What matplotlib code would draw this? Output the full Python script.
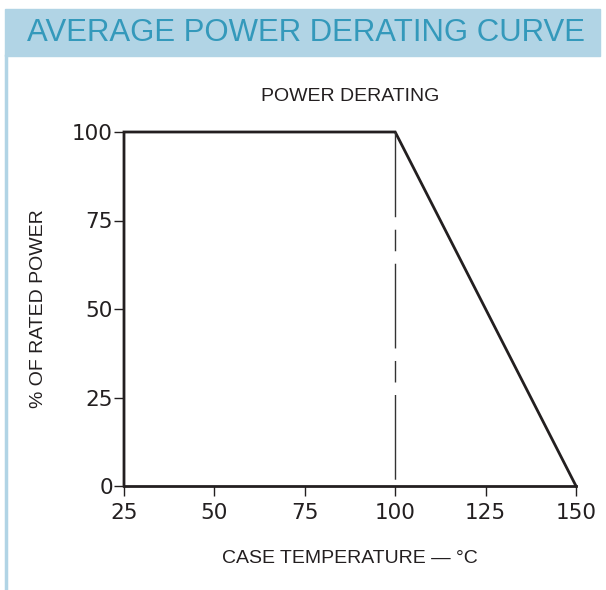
"""
Average power derating curve (resistor datasheet style).
"""
import matplotlib.pyplot as plt
from matplotlib.patches import Rectangle
from matplotlib.lines import Line2D

# curve data
temps = [25, 25, 100, 150]
power = [0, 100, 100, 0]
knee_temp = [100, 100]
knee_power = [100, 0]
xticks = [25, 50, 75, 100, 125, 150]
yticks = [0, 25, 50, 75, 100]

BAND = '#b1d4e5'
TITLE_BLUE = '#3499bb'
INK = '#231f20'

plt.rcParams['font.family'] = ['Liberation Sans', 'DejaVu Sans']

fig = plt.figure(figsize=(6.06, 5.90), dpi=100)

# header band and left border
fig.patches.append(Rectangle((5 / 606, 1 - 56 / 590), 595 / 606, 47 / 590,
                             transform=fig.transFigure, color=BAND, zorder=0))
fig.lines.append(Line2D([6 / 606, 6 / 606], [1 - 56 / 590, 2 / 590],
                        transform=fig.transFigure, color=BAND, lw=2.5))
fig.text(27 / 606, 1 - 33 / 590, 'AVERAGE POWER DERATING CURVE',
         ha='left', va='center', fontsize=22.4, color=TITLE_BLUE)

ax = fig.add_axes([124 / 606, 1 - 486 / 590, 452 / 606, 354 / 590])
ax.plot(temps, power, color=INK, lw=2, clip_on=False,
        solid_joinstyle='miter')
ax.plot(knee_temp, knee_power, color='#333333', lw=1,
        dashes=(61, 9, 15.5, 9), clip_on=False)

ax.set_xlim(25, 150)
ax.set_ylim(0, 100)
ax.set_xticks(xticks)
ax.set_yticks(yticks)
for side in ['top', 'right', 'left']:
    ax.spines[side].set_visible(False)
ax.spines['bottom'].set_linewidth(2)
ax.spines['bottom'].set_color(INK)
ax.tick_params(axis='both', direction='out', length=7, width=1,
               color=INK, labelcolor=INK)
ax.tick_params(axis='x', pad=5)
ax.tick_params(axis='y', pad=1)
for lab in ax.get_xticklabels() + ax.get_yticklabels():
    lab.set_fontfamily('DejaVu Sans')
    lab.set_fontsize(15.5)

ax.set_title('POWER DERATING', fontsize=14, color=INK, pad=22)
ax.set_xlabel('CASE TEMPERATURE \u2014 \u00b0C', fontsize=14,
              color=INK, labelpad=20)
ax.set_ylabel('% OF RATED POWER', fontsize=14, color=INK,
              labelpad=18)

fig.savefig('out.png', dpi=100)
